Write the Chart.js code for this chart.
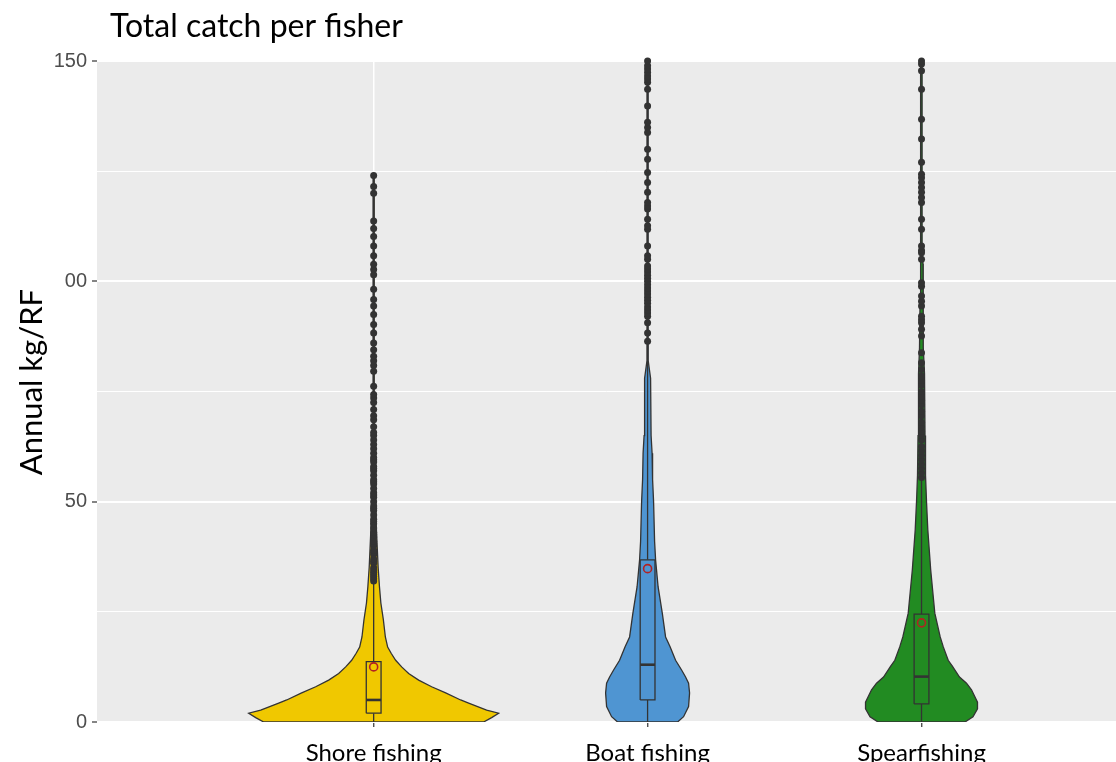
<!DOCTYPE html>
<html>
<head>
<meta charset="utf-8">
<script src="https://cdn.jsdelivr.net/npm/chart.js@4.4.1/dist/chart.umd.min.js"></script>
<style>
  body { margin: 0; background: #fff; }
  .chart-container { width: 1116px; height: 762px; }
</style>
</head>
<body>
<div class="chart-container"><canvas id="myChart" width="1116" height="762"></canvas></div>
<script>
// categories and colours
var categories = ['Shore fishing', 'Boat fishing', 'Spearfishing'];
var fills = ['#F0C800', '#4F95D2', '#228B22'];
var yTickLabels = ['0', '50', '00', '150'];

// violin outlines: kg values and half width (density) at each value
var shoreViolinY = [0, 1, 2, 2.7, 4.3, 5, 6.6, 8, 9.5, 11, 12.5, 14, 15.6, 17, 19.3, 23.2, 27, 30.7, 35, 40, 45, 50, 58, 62, 124];
var shoreViolinW = [110, 118, 125, 113, 95, 87, 72, 58, 45, 35, 28, 22, 17.5, 14, 11.7, 9.7, 7.2, 5.8, 4.5, 3.5, 2.5, 2, 1.5, 0.6, 0.6];
var boatViolinY = [0, 1.2, 3.5, 6.6, 8.8, 10.2, 11.8, 14, 17.1, 19.3, 24.7, 30.7, 36.8, 41, 50, 55, 61, 65, 78, 82, 150];
var boatViolinW = [30, 36, 41, 42, 41, 38, 34, 28, 22.5, 18, 14.7, 10.5, 8, 7, 6, 5, 4.5, 3.5, 3, 0.6, 0.6];
var spearViolinY = [0, 1.2, 3, 4.5, 7.3, 8.8, 10.2, 12.6, 14, 17.1, 19.3, 24.7, 34.5, 43.6, 50, 56, 65, 79, 85, 95, 104, 106, 150];
var spearViolinW = [43.5, 51.5, 56, 56, 50, 45, 38, 31, 26.7, 21.7, 18.7, 13.3, 9.2, 6.3, 5, 4, 3.5, 3, 2, 1.5, 1.5, 0.6, 0.6];

// box plot stats
var whiskerLow = [0, 0, 0];
var q1 = [2, 5, 4.1];
var medians = [5, 13, 10.3];
var q3 = [13.7, 36.8, 24.5];
var whiskerHigh = [31.8, 86, 55];
var means = [12.5, 34.8, 22.5];

// outliers
var shoreOutliers = [32, 32.5, 33, 33.5, 34, 34.5, 35, 36, 36.5, 37, 38, 38.5, 39, 40, 40.5, 41, 42, 42.5, 43, 44, 45, 45.5, 46, 47, 48, 48.5, 49, 50, 51, 51.5, 52, 53, 54, 54.5, 55, 56, 57, 57.5, 58, 59, 59.5, 60, 61, 62, 63, 64, 65, 65.7, 67, 68.6, 69.5, 70.9, 72.5, 73.5, 74.3, 76.2, 79.6, 80.9, 82, 83, 84.5, 86, 88.3, 90.2, 92.5, 94.4, 95.9, 98.2, 101.5, 102.7, 103.9, 105.8, 108, 110.2, 112, 113.7, 120, 121.5, 124];
var boatOutliers = [86.4, 88.3, 90.6, 92.1, 92.8, 93.5, 94.2, 95, 95.7, 96.4, 97.1, 97.8, 98.5, 99.2, 100, 100.7, 101.4, 102.1, 102.8, 103.5, 105, 105.8, 108, 111.8, 112.6, 114.1, 116.4, 117.1, 117.9, 120.2, 122.4, 124.7, 127.7, 130, 133.8, 134.9, 136.1, 139.8, 143.6, 145.2, 145.9, 146.6, 147.4, 148.2, 148.9, 150];
var spearOutliers = [55.5, 56.5, 57.5, 58.5, 59.5, 60.5, 61.5, 62.5, 64, 65, 66, 67, 68, 69.5, 70.5, 72, 73, 74, 75, 76.5, 77.5, 78.5, 80, 81.5, 83.8, 87.6, 89.1, 90.6, 91.3, 92.1, 94.4, 95.5, 96.7, 98.9, 99.7, 105, 106.5, 107, 108, 111.8, 114.1, 117.9, 119, 120.2, 121.3, 122.4, 123.5, 124.3, 127, 132.3, 136.8, 143.6, 147.8, 149.3, 150];

var violinY = [shoreViolinY, boatViolinY, spearViolinY];
var violinW = [shoreViolinW, boatViolinW, spearViolinW];
var outliers = [shoreOutliers, boatOutliers, spearOutliers];

var widthScale = 1 / 274;   // density -> category units
var boxHalf = 0.027;
var dark = '#333333';

var layers = [];
categories.forEach(function (name, i) {
  var c = i + 1;
  var pts = [];
  for (var k = 0; k < violinY[i].length; k++) pts.push({x: c - violinW[i][k] * widthScale, y: violinY[i][k]});
  for (var k = violinY[i].length - 1; k >= 0; k--) pts.push({x: c + violinW[i][k] * widthScale, y: violinY[i][k]});
  pts.push({x: pts[0].x, y: pts[0].y});
  layers.push({data: pts, showLine: true, fill: 'shape', backgroundColor: fills[i], borderColor: dark, borderWidth: 1.3, pointRadius: 0, tension: 0});

  // whiskers
  layers.push({data: [{x: c, y: whiskerLow[i]}, {x: c, y: q1[i]}], showLine: true, fill: false, borderColor: dark, borderWidth: 1.3, pointRadius: 0});
  layers.push({data: [{x: c, y: q3[i]}, {x: c, y: whiskerHigh[i]}], showLine: true, fill: false, borderColor: dark, borderWidth: 1.3, pointRadius: 0});

  // box
  layers.push({data: [{x: c - boxHalf, y: q1[i]}, {x: c + boxHalf, y: q1[i]}, {x: c + boxHalf, y: q3[i]}, {x: c - boxHalf, y: q3[i]}, {x: c - boxHalf, y: q1[i]}],
    showLine: true, fill: 'shape', backgroundColor: fills[i], borderColor: dark, borderWidth: 1.3, pointRadius: 0});
  layers.push({data: [{x: c - boxHalf, y: medians[i]}, {x: c + boxHalf, y: medians[i]}], showLine: true, fill: false, borderColor: dark, borderWidth: 2.6, pointRadius: 0});

  // outlier points
  layers.push({data: outliers[i].map(function (v) { return {x: c, y: v}; }), showLine: false, pointRadius: 3.5, pointBackgroundColor: dark, pointBorderWidth: 0, clip: false});

  // mean
  layers.push({data: [{x: c, y: means[i]}], showLine: false, pointRadius: 4, pointBackgroundColor: 'rgba(0,0,0,0)', pointBorderColor: '#B22222', pointBorderWidth: 1.6});
});
// first layer in the list is drawn first (bottom)
layers.forEach(function (d, i) { d.order = layers.length - i; });

var panelPlugin = {
  id: 'panel',
  beforeDraw: function (chart) {
    var a = chart.chartArea, ctx = chart.ctx;
    ctx.save();
    ctx.fillStyle = '#EBEBEB';
    ctx.fillRect(a.left, a.top, a.right - a.left, a.bottom - a.top);
    ctx.restore();
  },
  afterDraw: function (chart) {
    var ctx = chart.ctx;
    ctx.save();
    ctx.fillStyle = '#000';
    ctx.font = '32px Lato';
    ctx.textAlign = 'left';
    ctx.textBaseline = 'alphabetic';
    ctx.fillText('Total catch per fisher', 110, 37);
    ctx.translate(32, 382);
    ctx.rotate(-Math.PI / 2);
    ctx.font = '31px Lato';
    ctx.textAlign = 'center';
    ctx.textBaseline = 'middle';
    ctx.fillText('Annual kg/RF', 0, 0);
    ctx.restore();
  }
};

var ctx = document.getElementById('myChart').getContext('2d');
var myChart = new Chart(ctx, {
  type: 'scatter',
  data: {datasets: layers},
  options: {
    responsive: false,
    animation: false,
    devicePixelRatio: 1,
    events: [],
    layout: {autoPadding: false, padding: {top: 61, right: 0, bottom: 0, left: 0}},
    plugins: {legend: {display: false}, tooltip: {enabled: false}},
    scales: {
      x: {
        type: 'linear', min: -0.01, max: 3.71,
        afterBuildTicks: function (s) { s.ticks = categories.map(function (n, i) { return {value: i + 1}; }); },
        afterFit: function (s) { s.height = 40; s.paddingLeft = 0; s.paddingRight = 0; },
        border: {display: false},
        grid: {color: '#FFFFFF', lineWidth: 1.5, tickColor: dark, tickLength: 5, tickWidth: 1.2},
        ticks: {
          autoSkip: false, maxRotation: 0, padding: 12,
          callback: function (v) { return categories[v - 1]; },
          font: {family: 'Lato', size: 24}, color: '#000'
        }
      },
      y: {
        min: 0, max: 150,
        afterFit: function (s) { s.width = 97; },
        border: {display: false},
        grid: {
          color: '#FFFFFF',
          lineWidth: function (c) { return c.tick && c.tick.value % 50 === 0 ? 2 : 1; },
          tickColor: function (c) { return c.tick && c.tick.value % 50 === 0 ? dark : 'rgba(0,0,0,0)'; },
          tickLength: 5, tickWidth: 1.2
        },
        ticks: {
          stepSize: 25, padding: 5,
          callback: function (v) { return v % 50 === 0 ? yTickLabels[v / 50] : ''; },
          font: {family: 'Liberation Sans', size: 20}, color: '#4D4D4D'
        }
      }
    }
  },
  plugins: [panelPlugin]
});
</script>
</body>
</html>
